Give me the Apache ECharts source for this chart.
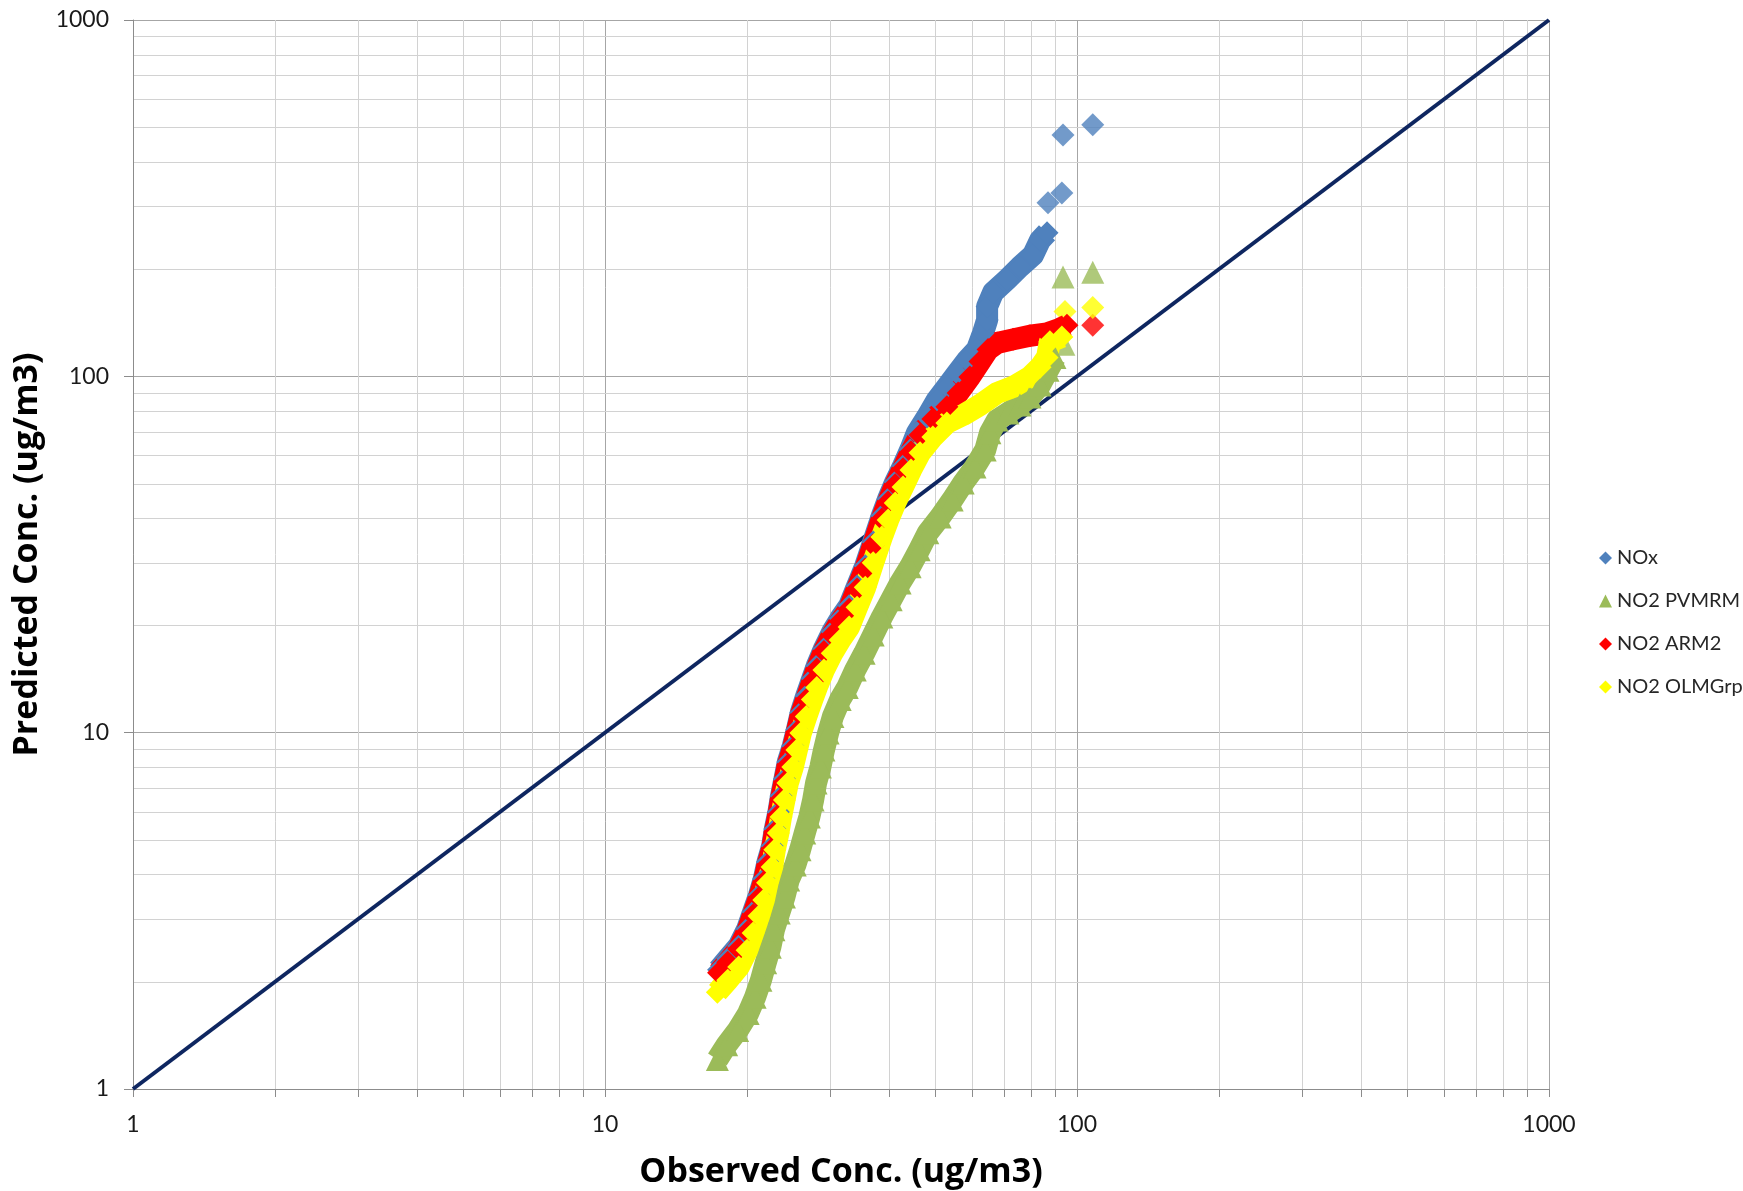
<!DOCTYPE html>
<html><head><meta charset="utf-8">
<script src="https://cdn.jsdelivr.net/npm/echarts@6.0.0/dist/echarts.min.js"></script>
<style>html,body{margin:0;padding:0;background:#fff}#c{width:1743px;height:1191px}</style>
</head><body><div id="c"></div>
<script>
// ---- tick values ----
const minorTicks = [2,3,4,5,6,7,8,9,20,30,40,50,60,70,80,90,200,300,400,500,600,700,800,900];

// ---- 1:1 reference line ----
const oneToOne = [[1,1],[1000,1000]];

// ---- NOx (observed, predicted) ----
const noxBand = [[17.4,2.16],[18.2,2.32],[19.2,2.52],[20.0,2.81],[20.6,3.14],[21.2,3.50],[21.7,3.89],[22.1,4.34],[22.6,4.81],[22.9,5.37],[23.3,5.99],[23.6,6.64],[24.0,7.41],[24.4,8.28],[25.0,9.18],[25.5,10.2],[26.0,11.4],[26.7,12.7],[27.5,14.2],[28.1,15.4],[29.1,17.2],[30.3,19.2],[31.5,20.9],[32.9,22.7],[34.2,25.8],[35.6,29.4],[37.0,34.3],[38.6,40.6],[39.8,45.3],[41.2,50.5],[42.8,56.0],[44.3,62.1],[45.8,69.4],[48.1,76.9],[50.5,85.9],[53.0,93.4],[55.7,102],[58.5,111],[61.4,119],[63.2,132],[64.5,144],[64.5,157],[66.4,172],[71.1,187],[75.7,203],[80.7,219],[83.5,241],[86.4,253]];
const noxTop = [[86.8,307],[92.9,327],[93.4,476],[108,508]];

// ---- NO2 PVMRM ----
const pvmrmBand = [[17.3,1.21],[18.1,1.33],[19.1,1.46],[20.1,1.63],[20.8,1.81],[21.4,2.02],[21.9,2.26],[22.4,2.50],[22.8,2.80],[23.4,3.12],[24.0,3.46],[24.5,3.86],[25.3,4.25],[25.9,4.69],[26.5,5.23],[27.1,5.80],[27.6,6.47],[28.0,7.22],[28.6,8.01],[29.1,8.94],[29.7,9.98],[30.4,11.1],[31.5,12.4],[32.6,13.4],[33.9,15.0],[35.4,16.7],[37.0,18.8],[38.6,21.1],[40.4,23.6],[42.2,26.3],[44.3,29.2],[46.3,32.6],[48.3,36.4],[51.3,40.3],[54.4,45.0],[57.4,50.2],[60.8,55.7],[63.9,62.1],[65.4,69.4],[67.7,75.4],[71.4,78.9],[75.7,83.1],[79.5,87.5],[83.5,94.6],[86.8,104],[89.8,113]];
const pvmrmTop = [[93.8,123],[93.4,190],[108,196]];

// ---- NO2 ARM2 ----
const arm2Band = [[17.4,2.12],[18.2,2.27],[19.2,2.47],[20.0,2.76],[20.6,3.08],[21.2,3.44],[21.7,3.81],[22.1,4.25],[22.6,4.72],[22.9,5.26],[23.3,5.87],[23.6,6.51],[24.0,7.27],[24.4,8.12],[25.0,9.00],[25.5,10.05],[26.0,11.2],[26.7,12.4],[27.5,13.9],[28.1,15.1],[29.1,16.9],[30.3,18.8],[31.5,20.5],[32.9,22.2],[34.2,25.3],[35.6,28.8],[37.0,33.6],[38.6,39.8],[39.8,44.4],[41.2,49.6],[42.8,55.0],[44.5,61.4],[46.5,68.5],[49.5,75.9],[53.0,82.1],[56.0,89.8],[59.3,99.6],[62.3,110],[64.8,119],[67.7,124],[73.2,127],[79.5,130],[86.4,132],[92.0,136],[95.2,139]];
const arm2Top = [[108,139]];

// ---- NO2 OLMGrp ----
const olmBand = [[17.3,1.87],[18.2,2.02],[19.2,2.20],[20.0,2.45],[20.6,2.74],[21.2,3.06],[21.7,3.39],[22.1,3.79],[22.6,4.20],[22.9,4.69],[23.3,5.23],[23.6,5.80],[24.0,6.47],[24.4,7.22],[25.0,8.01],[25.5,8.94],[26.0,9.98],[26.7,11.1],[27.5,12.4],[28.1,13.4],[29.1,15.0],[30.3,16.7],[31.5,18.2],[32.9,19.8],[34.2,22.5],[35.6,25.6],[37.0,30.0],[38.6,35.4],[39.8,39.5],[41.2,44.1],[42.8,48.9],[44.5,54.6],[46.5,61.0],[49.5,67.6],[53.0,74.0],[57.4,77.9],[62.3,83.1],[67.7,89.8],[73.2,93.4],[79.5,99.6],[83.5,106],[86.4,113],[87.6,125],[92.9,129]];
const olmTop = [[94.3,152],[108,156]];

const FONT = 'Lato, "Liberation Sans", sans-serif';
const TITLE_FONT = '"Open Sans", Lato, sans-serif';
const C_NOX = '#4F81BD', C_PV = '#9BBB59', C_ARM = '#FF0000', C_OLM = '#FFFF00', C_11 = '#0E2660';

// minor gridlines / minor x ticks, positioned by the axes
const gridItems = [];
minorTicks.forEach(v => { gridItems.push([v, 1, 0]); gridItems.push([1, v, 1]); });

function renderGrid(params, api) {
  const cs = params.coordSys;
  const kind = api.value(2);
  if (kind === 0) {
    const p = api.coord([api.value(0), 1]);
    const x = Math.round(p[0]) + 0.5;
    return {type:'group', children:[
      {type:'line', shape:{x1:x, y1:cs.y, x2:x, y2:cs.y+cs.height}, style:{stroke:'#D2D2D2', lineWidth:1}},
      {type:'line', shape:{x1:x, y1:cs.y+cs.height, x2:x, y2:cs.y+cs.height+8}, style:{stroke:'#8C8C8C', lineWidth:1}}
    ]};
  } else {
    const p = api.coord([1, api.value(1)]);
    const y = Math.round(p[1]) + 0.5;
    return {type:'line', shape:{x1:cs.x, y1:y, x2:cs.x+cs.width, y2:y}, style:{stroke:'#D2D2D2', lineWidth:1}};
  }
}

function band(name, data, color, symbol) {
  return {name, type:'line', data, symbol, symbolSize:23, showSymbol:true,
    lineStyle:{width:22, color, join:'round', cap:'butt'}, itemStyle:{color},
    emphasis:{disabled:true}, silent:true, animation:false, clip:true};
}
function pts(name, data, color, symbol) {
  return {name, type:'scatter', data, symbol, symbolSize:23, itemStyle:{color},
    emphasis:{disabled:true}, silent:true, animation:false};
}

const chart = echarts.init(document.getElementById('c'), null, {renderer:'canvas'});
chart.setOption({
  animation:false,
  backgroundColor:'#fff',
  textStyle:{fontFamily:FONT},
  grid:{left:133, top:20, right:194, bottom:102, containLabel:false, outerBoundsMode:'none'},
  legend:{
    orient:'vertical', left:1594, top:543, itemWidth:13, itemHeight:13, itemGap:23,
    textStyle:{fontSize:20, color:'#262626', fontFamily:FONT, lineHeight:20},
    selectedMode:false,
    data:[
      {name:'NOx', icon:'diamond'},
      {name:'NO2 PVMRM', icon:'triangle'},
      {name:'NO2 ARM2', icon:'diamond'},
      {name:'NO2 OLMGrp', icon:'diamond'}
    ]
  },
  xAxis:{
    type:'log', logBase:10, min:1, max:1000,
    name:'Observed Conc. (ug/m3)', nameLocation:'middle', nameGap:66,
    nameTextStyle:{fontSize:34, fontWeight:'bold', color:'#000', fontFamily:TITLE_FONT},
    axisLine:{show:true, lineStyle:{color:'#8C8C8C', width:1}},
    axisTick:{show:true, inside:false, length:8, lineStyle:{color:'#8C8C8C'}},
    axisLabel:{fontSize:23, color:'#1A1A1A', margin:24, fontFamily:FONT, formatter: v => String(v)},
    splitLine:{show:true, lineStyle:{color:'#A6A6A6', width:1}},
    minorTick:{show:false}, minorSplitLine:{show:false}
  },
  yAxis:{
    type:'log', logBase:10, min:1, max:1000,
    name:'Predicted Conc. (ug/m3)', nameLocation:'middle', nameGap:85, nameRotate:90,
    nameTextStyle:{fontSize:34, fontWeight:'bold', color:'#000', fontFamily:TITLE_FONT},
    axisLine:{show:true, lineStyle:{color:'#8C8C8C', width:1}},
    axisTick:{show:true, inside:false, length:9, lineStyle:{color:'#8C8C8C'}},
    axisLabel:{fontSize:23, color:'#1A1A1A', margin:24, fontFamily:FONT, formatter: v => String(v)},
    splitLine:{show:true, lineStyle:{color:'#A6A6A6', width:1}},
    minorTick:{show:false}, minorSplitLine:{show:false}
  },
  series:[
    {name:'minor grid', type:'custom', data:gridItems, encode:{x:0, y:1}, renderItem:renderGrid, silent:true, animation:false, z:0},
    {name:'1:1', type:'line', data:oneToOne, symbol:'none', lineStyle:{width:4, color:C_11}, silent:true, animation:false, z:1},
    band('NOx', noxBand, C_NOX, 'diamond'),
    pts('NOx', noxTop, C_NOX, 'diamond'),
    band('NO2 PVMRM', pvmrmBand, C_PV, 'triangle'),
    pts('NO2 PVMRM', pvmrmTop, C_PV, 'triangle'),
    band('NO2 ARM2', arm2Band, C_ARM, 'diamond'),
    pts('NO2 ARM2', arm2Top, C_ARM, 'diamond'),
    band('NO2 OLMGrp', olmBand, C_OLM, 'diamond'),
    pts('NO2 OLMGrp', olmTop, C_OLM, 'diamond')
  ]
});
</script></body></html>
